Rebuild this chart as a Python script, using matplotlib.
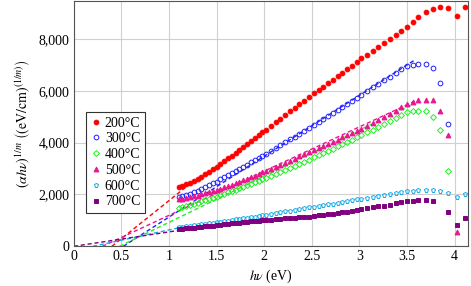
import numpy as np
import matplotlib
matplotlib.use("Agg")
import matplotlib.pyplot as plt
from matplotlib.ticker import FuncFormatter, MultipleLocator

plt.rcParams['font.family'] = 'Liberation Serif'
plt.rcParams['mathtext.fontset'] = 'stix'

nan = np.nan

# photon energy (eV), shared by all series
hv = [1.10, 1.14, 1.18, 1.22, 1.26, 1.30, 1.34, 1.38, 1.42, 1.46, 1.50, 1.54,
      1.58, 1.62, 1.66, 1.70, 1.74, 1.78, 1.82, 1.86, 1.90, 1.94, 1.98, 2.02,
      2.07, 2.12, 2.17, 2.22, 2.27, 2.32, 2.37, 2.42, 2.47, 2.52, 2.57, 2.62,
      2.67, 2.72, 2.77, 2.82, 2.87, 2.92, 2.97, 3.02,
      3.08, 3.14, 3.20, 3.26, 3.32, 3.38, 3.44, 3.50, 3.56, 3.62,
      3.70, 3.77, 3.85, 3.93, 4.02, 4.11]

t200 = [2270, 2330, 2390, 2455, 2525, 2600, 2690, 2785, 2880, 2980, 3080, 3185,
        3290, 3395, 3500, 3610, 3720, 3835, 3945, 4060, 4170, 4280, 4395, 4505,
        4645, 4785, 4925, 5065, 5205, 5345, 5485, 5625, 5765, 5900, 6030, 6160,
        6290, 6425, 6565, 6705, 6840, 6975, 7115, 7250,
        7400, 7550, 7700, 7850, 8000, 8150, 8310, 8480, 8670, 8850,
        9050, 9150, 9230, 9180, 8900, 9230]
t300 = [1900, 1940, 1985, 2035, 2090, 2150, 2215, 2285, 2355, 2425, 2500, 2580,
        2660, 2740, 2820, 2900, 2985, 3070, 3150, 3235, 3320, 3405, 3490, 3575,
        3685, 3795, 3905, 4015, 4125, 4235, 4345, 4455, 4560, 4675, 4790, 4905,
        5020, 5135, 5250, 5370, 5490, 5610, 5730, 5850,
        5990, 6135, 6270, 6410, 6550, 6690, 6830, 6950, 7010, 7040,
        7040, 6870, 6290, 4730, nan, nan]
t400 = [1460, 1500, 1540, 1585, 1630, 1680, 1730, 1775, 1825, 1870, 1920, 1970,
        2025, 2080, 2135, 2190, 2245, 2300, 2360, 2415, 2470, 2530, 2590, 2650,
        2725, 2800, 2875, 2950, 3030, 3110, 3190, 3270, 3350, 3435, 3520, 3605,
        3690, 3775, 3860, 3945, 4030, 4115, 4200, 4285,
        4395, 4505, 4620, 4735, 4850, 4960, 5070, 5170, 5210, 5230,
        5215, 5010, 4500, 2900, nan, nan]
t500 = [1810, 1835, 1865, 1895, 1925, 1960, 2000, 2040, 2080, 2125, 2170, 2220,
        2275, 2330, 2385, 2440, 2495, 2550, 2610, 2670, 2730, 2790, 2850, 2910,
        2985, 3060, 3140, 3220, 3300, 3385, 3470, 3555, 3640, 3720, 3800, 3880,
        3960, 4040, 4120, 4200, 4280, 4360, 4440, 4530,
        4640, 4760, 4880, 5000, 5120, 5240, 5360, 5480, 5580, 5650,
        5650, 5630, 5240, 4280, 560, nan]
t600 = [730, 750, 770, 790, 810, 830, 850, 870, 890, 910, 930, 950,
        975, 995, 1020, 1040, 1060, 1085, 1105, 1130, 1150, 1175, 1200, 1220,
        1250, 1280, 1310, 1345, 1375, 1410, 1440, 1470, 1500, 1530, 1560, 1590,
        1620, 1650, 1680, 1710, 1740, 1775, 1810, 1840,
        1880, 1915, 1950, 1985, 2020, 2060, 2090, 2120, 2150, 2175,
        2190, 2165, 2130, 2060, 1910, 2010]
t700 = [665, 680, 695, 710, 725, 740, 755, 770, 785, 800, 820, 835,
        850, 865, 885, 900, 915, 930, 950, 965, 980, 990, 1000, 1015,
        1030, 1045, 1060, 1075, 1090, 1100, 1115, 1130, 1150, 1170, 1190, 1210,
        1235, 1260, 1285, 1310, 1340, 1370, 1400, 1430,
        1470, 1505, 1540, 1575, 1610, 1655, 1700, 1740, 1760, 1775,
        1780, 1740, nan, 1310, 820, 1100]

labels = ['200°C', '300°C', '400°C', '500°C', '600°C', '700°C']

# Tauc extrapolation lines: start on the x axis, end point
fit_x0 = [0.40, 0.52, 0.48, 0.30, 0.20, 0.00]
fit_x1 = [1.25, 3.58, 3.58, 3.58, 1.15, 1.15]
fit_y1 = [2500, 7190, 5520, 5600, 750, 640]

series = [t200, t300, t400, t500, t600, t700]
colors = ['#ff0000', '#2020ff', '#22ee22', '#e8178f', '#12a9e8', '#800080']
markers = ['o', 'o', 'D', '^', 'p', 's']
filled = [True, False, False, True, False, True]
sizes = [3.4, 3.4, 3.0, 3.5, 3.6, 3.0]

fig = plt.figure(figsize=(4.71, 2.86), dpi=100)
ax = fig.add_axes([0.1567, 0.1388, 0.8369, 0.8560])

for i in range(6):
    ax.plot([fit_x0[i], fit_x1[i]], [0, fit_y1[i]], ls=(0, (3, 2)), lw=1.0,
            color=colors[i], zorder=2)

for i in range(6):
    c = colors[i]
    ax.plot(hv, series[i], ls='none', marker=markers[i], ms=sizes[i],
            mfc=c if filled[i] else 'none', mec=c, mew=0.7,
            label=labels[i], zorder=3)

ax.set_xlim(0, 4.14)
ax.set_ylim(0, 9450)
ax.xaxis.set_major_locator(MultipleLocator(0.5))
ax.yaxis.set_major_locator(MultipleLocator(2000))
ax.xaxis.set_major_formatter(FuncFormatter(lambda v, p: '{:g}'.format(v)))
ax.yaxis.set_major_formatter(FuncFormatter(lambda v, p: '{:,.0f}'.format(v)))
ax.grid(True, color='#d0d0d0', lw=0.8)
ax.set_axisbelow(True)
ax.tick_params(labelsize=10, length=0, pad=3)
for sp in ax.spines.values():
    sp.set_color('#555555')
    sp.set_linewidth(0.8)

ax.set_xlabel(r'$h\nu$ (eV)', fontsize=10, labelpad=3)
ax.set_ylabel(r'$(\alpha h\nu)^{1/m}\ \left((\mathrm{eV/cm})^{(1/m)}\right)$',
              fontsize=10, labelpad=4)

leg = ax.legend(loc='upper left', bbox_to_anchor=(0.031, 0.55), borderaxespad=0,
                fontsize=10, fancybox=False, edgecolor='#333333', framealpha=1,
                handlelength=0.7, handletextpad=0.3, labelspacing=0.2,
                borderpad=0.35)
leg.get_frame().set_linewidth(0.8)

plt.savefig('out.png', dpi=100)
